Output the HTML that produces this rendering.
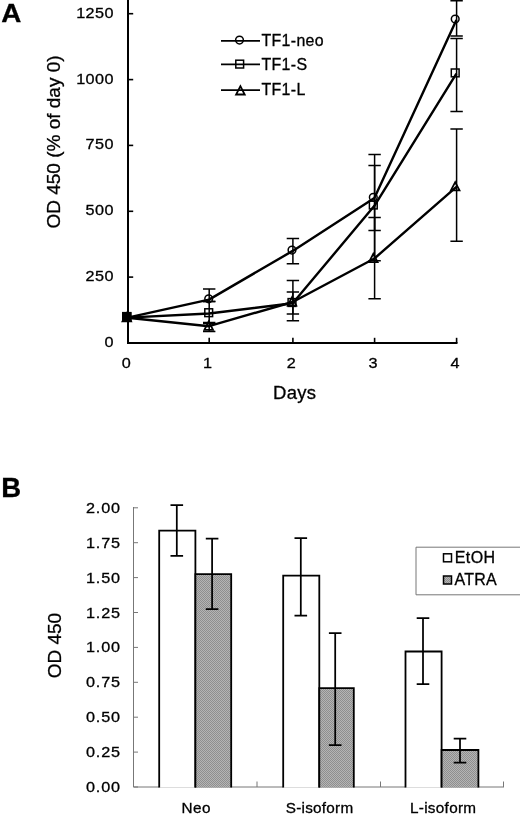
<!DOCTYPE html>
<html><head><meta charset="utf-8"><title>Figure</title>
<style>html,body{margin:0;padding:0;background:#fff;}body{width:520px;height:815px;overflow:hidden;position:relative;font-family:"Liberation Sans",sans-serif;}</style></head>
<body>
<svg width="520" height="815" viewBox="0 0 520 815" style="position:absolute;left:0;top:0;will-change:transform;font-family:'Liberation Sans',sans-serif;">
<rect width="520" height="815" fill="#fff"/>
<g id="pA" fill="none" stroke="#000" stroke-linecap="butt">
<path d="M128 0V343.0H457.5" stroke-width="2"/>
<path d="M128 277.1h5.2" stroke-width="1.6"/>
<path d="M128 211.3h5.2" stroke-width="1.6"/>
<path d="M128 145.4h5.2" stroke-width="1.6"/>
<path d="M128 79.6h5.2" stroke-width="1.6"/>
<path d="M128 13.7h5.2" stroke-width="1.6"/>
<path d="M209.2 343.0v-5.2" stroke-width="1.6"/>
<path d="M292.9 343.0v-5.2" stroke-width="1.6"/>
<path d="M374.6 343.0v-5.2" stroke-width="1.6"/>
<path d="M456.6 343.0v-5.2" stroke-width="1.6"/>
<path d="M209.2 289.0V301.4M203.0 289.0h12.4M203.0 301.4h12.4" stroke-width="1.5"/>
<path d="M209.2 301.4V323.6M203.0 301.4h12.4M203.0 323.6h12.4" stroke-width="1.5"/>
<path d="M209.2 322.6V331.4M203.0 322.6h12.4M203.0 331.4h12.4" stroke-width="1.5"/>
<path d="M292.9 238.4V263.7M286.7 238.4h12.4M286.7 263.7h12.4" stroke-width="1.5"/>
<path d="M292.9 280.6V320.7M286.7 280.6h12.4M286.7 320.7h12.4" stroke-width="1.5"/>
<path d="M292.9 292.0V314.1M286.7 292.0h12.4M286.7 314.1h12.4" stroke-width="1.5"/>
<path d="M374.6 165.4V230.6M368.4 165.4h12.4M368.4 230.6h12.4" stroke-width="1.5"/>
<path d="M374.6 154.6V260.8M368.4 154.6h12.4M368.4 260.8h12.4" stroke-width="1.5"/>
<path d="M374.6 217.5V298.8M368.4 217.5h12.4M368.4 298.8h12.4" stroke-width="1.5"/>
<path d="M456.6 0.8V36.0M450.4 0.8h12.4M450.4 36.0h12.4" stroke-width="1.5"/>
<path d="M456.6 38.6V111.6M450.4 38.6h12.4M450.4 111.6h12.4" stroke-width="1.5"/>
<path d="M456.6 129.0V241.3M450.4 129.0h12.4M450.4 241.3h12.4" stroke-width="1.5"/>
<polyline points="127.6,317.6 209.0,299.6 292.7,250.9 374.4,198.1 456.4,19.9" stroke-width="2.4" stroke-linejoin="round"/>
<polyline points="127.6,317.6 209.0,313.5 292.7,303.3 374.4,205.8 456.4,73.7" stroke-width="2.4" stroke-linejoin="round"/>
<polyline points="127.6,317.8 209.0,326.2 292.7,302.0 374.4,258.5 456.4,186.8" stroke-width="2.4" stroke-linejoin="round"/>
<rect x="122.6" y="312.4" width="8.4" height="8.6" fill="#000" stroke-width="1"/>
<circle cx="126.8" cy="316.8" r="3.85" stroke-width="1.5"/>
<rect x="122.9" y="312.9" width="7.8" height="7.8" stroke-width="1.5"/>
<path d="M126.8 313.1L131.1 321.4H122.5Z" stroke-width="1.8" stroke-linejoin="miter"/>
<circle cx="208.7" cy="298.8" r="3.85" stroke-width="1.5"/>
<rect x="204.8" y="308.8" width="7.8" height="7.8" stroke-width="1.5"/>
<path d="M208.7 321.5L213.0 329.8H204.4Z" stroke-width="1.8" stroke-linejoin="miter"/>
<circle cx="292.0" cy="250.1" r="3.85" stroke-width="1.5"/>
<rect x="288.1" y="298.6" width="7.8" height="7.8" stroke-width="1.5"/>
<path d="M292.0 297.3L296.3 305.6H287.7Z" stroke-width="1.8" stroke-linejoin="miter"/>
<circle cx="373.3" cy="197.3" r="3.85" stroke-width="1.5"/>
<rect x="369.4" y="201.1" width="7.8" height="7.8" stroke-width="1.5"/>
<path d="M373.3 253.8L377.6 262.1H369.0Z" stroke-width="1.8" stroke-linejoin="miter"/>
<circle cx="455.2" cy="19.1" r="3.85" stroke-width="1.5"/>
<rect x="451.3" y="69.0" width="7.8" height="7.8" stroke-width="1.5"/>
<path d="M455.2 182.1L459.5 190.4H450.9Z" stroke-width="1.8" stroke-linejoin="miter"/>
<path d="M221 40.9H260" stroke-width="1.8"/>
<circle cx="239.5" cy="40.1" r="3.85" stroke-width="1.5"/>
<path d="M221 64.4H260" stroke-width="1.8"/>
<rect x="235.8" y="60.2" width="7.8" height="7.8" stroke-width="1.5"/>
<path d="M221 90.1H260" stroke-width="1.8"/>
<path d="M240.4 86.2L244.7 94.5H236.1Z" stroke-width="1.8" stroke-linejoin="miter"/>
</g>
<g fill="#000">
<text transform="translate(261.40 46.20) scale(1.02 1)" x="0.00" y="0" font-size="15.6px" letter-spacing="0.35px" text-anchor="start" stroke="#000" stroke-width="0.3">TF1-neo</text>
<text transform="translate(261.40 69.80) scale(1.02 1)" x="0.00" y="0" font-size="15.6px" letter-spacing="0.35px" text-anchor="start" stroke="#000" stroke-width="0.3">TF1-S</text>
<text transform="translate(261.40 94.90) scale(1.02 1)" x="0.00" y="0" font-size="15.6px" letter-spacing="0.35px" text-anchor="start" stroke="#000" stroke-width="0.3">TF1-L</text>
<text transform="translate(113.50 347.00) scale(1.08 1)" x="0.40" y="0" font-size="15px" letter-spacing="0.4px" text-anchor="end" stroke="#000" stroke-width="0.3">0</text>
<text transform="translate(113.50 281.14) scale(1.08 1)" x="0.40" y="0" font-size="15px" letter-spacing="0.4px" text-anchor="end" stroke="#000" stroke-width="0.3">250</text>
<text transform="translate(113.50 215.28) scale(1.08 1)" x="0.40" y="0" font-size="15px" letter-spacing="0.4px" text-anchor="end" stroke="#000" stroke-width="0.3">500</text>
<text transform="translate(113.50 149.42) scale(1.08 1)" x="0.40" y="0" font-size="15px" letter-spacing="0.4px" text-anchor="end" stroke="#000" stroke-width="0.3">750</text>
<text transform="translate(113.50 83.56) scale(1.08 1)" x="0.40" y="0" font-size="15px" letter-spacing="0.4px" text-anchor="end" stroke="#000" stroke-width="0.3">1000</text>
<text transform="translate(113.50 17.70) scale(1.08 1)" x="0.40" y="0" font-size="15px" letter-spacing="0.4px" text-anchor="end" stroke="#000" stroke-width="0.3">1250</text>
<text transform="translate(126.20 368.40) scale(1.08 1)" x="0.00" y="0" font-size="15px" letter-spacing="0px" text-anchor="middle" stroke="#000" stroke-width="0.3">0</text>
<text transform="translate(207.60 368.40) scale(1.08 1)" x="0.00" y="0" font-size="15px" letter-spacing="0px" text-anchor="middle" stroke="#000" stroke-width="0.3">1</text>
<text transform="translate(291.30 368.40) scale(1.08 1)" x="0.00" y="0" font-size="15px" letter-spacing="0px" text-anchor="middle" stroke="#000" stroke-width="0.3">2</text>
<text transform="translate(373.00 368.40) scale(1.08 1)" x="0.00" y="0" font-size="15px" letter-spacing="0px" text-anchor="middle" stroke="#000" stroke-width="0.3">3</text>
<text transform="translate(455.00 368.40) scale(1.08 1)" x="0.00" y="0" font-size="15px" letter-spacing="0px" text-anchor="middle" stroke="#000" stroke-width="0.3">4</text>
<text transform="translate(294.50 399.10) scale(1.0 1)" x="0.15" y="0" font-size="18.5px" letter-spacing="0.3px" text-anchor="middle" stroke="#000" stroke-width="0.3">Days</text>
<text transform="translate(60.0 142.0) rotate(-90)" text-anchor="middle" font-size="19px" stroke="#000" stroke-width="0.3">OD 450 (% of day 0)</text>
<text transform="translate(1.3 22.4) scale(1.05 1)" font-size="26.5px" font-weight="bold" stroke="#000" stroke-width="0.3">A</text>
<text transform="translate(1.3 497.4) scale(1.02 1)" font-size="27px" font-weight="bold" stroke="#000" stroke-width="0.3">B</text>
</g>
<g id="pB" fill="none" stroke="#777" stroke-width="1">
<path d="M133.5 507V787.0H504"/>
<path d="M133.5 787.0h4.5"/>
<path d="M133.5 752.1h4.5"/>
<path d="M133.5 717.2h4.5"/>
<path d="M133.5 682.3h4.5"/>
<path d="M133.5 647.4h4.5"/>
<path d="M133.5 612.5h4.5"/>
<path d="M133.5 577.6h4.5"/>
<path d="M133.5 542.7h4.5"/>
<path d="M133.5 507.8h4.5"/>
<path d="M257.0 787.0v-5.5"/>
<path d="M380.5 787.0v-5.5"/>
<path d="M503.5 787.0v-5.5"/>
<path d="M530 547.2H416V594.8H530"/>
</g>
<defs><pattern id="ht" width="2" height="2" patternUnits="userSpaceOnUse"><rect width="2" height="2" fill="#b4b4b4"/><rect width="1" height="1" fill="#8e8e8e"/><rect x="1" y="1" width="1" height="1" fill="#8e8e8e"/></pattern></defs>
<g stroke="#000" stroke-width="1.8">
<path d="M159.2 787.5V530.6H195.4V787.5" fill="#fff"/>
<path d="M195.4 787.5V574.2H231.2V787.5" fill="url(#ht)"/>
<path d="M283.2 787.5V575.7H319.3V787.5" fill="#fff"/>
<path d="M319.3 787.5V688.2H353.8V787.5" fill="url(#ht)"/>
<path d="M405.5 787.5V651.5H441.6V787.5" fill="#fff"/>
<path d="M441.6 787.5V750H478.4V787.5" fill="url(#ht)"/>
<path d="M176.8 505V555.8M170.5 505h12.6M170.5 555.8h12.6" fill="none" stroke-width="1.75"/>
<path d="M212.1 538.5V609M205.8 538.5h12.6M205.8 609h12.6" fill="none" stroke-width="1.75"/>
<path d="M300.8 538V615.5M294.5 538h12.6M294.5 615.5h12.6" fill="none" stroke-width="1.75"/>
<path d="M335.2 633V745M328.9 633h12.6M328.9 745h12.6" fill="none" stroke-width="1.75"/>
<path d="M423 618V684M416.7 618h12.6M416.7 684h12.6" fill="none" stroke-width="1.75"/>
<path d="M460 738.5V762.5M453.7 738.5h12.6M453.7 762.5h12.6" fill="none" stroke-width="1.75"/>
<rect x="443.5" y="553.8" width="8" height="8" fill="#fff" stroke-width="1.5"/>
<rect x="443.5" y="576" width="8" height="8" fill="url(#ht)" stroke-width="1.5"/>
</g>
<g fill="#000">
<text transform="translate(120.00 792.00) scale(1.08 1)" x="0.75" y="0" font-size="15px" letter-spacing="0.75px" text-anchor="end" stroke="#000" stroke-width="0.3">0.00</text>
<text transform="translate(120.00 757.10) scale(1.08 1)" x="0.75" y="0" font-size="15px" letter-spacing="0.75px" text-anchor="end" stroke="#000" stroke-width="0.3">0.25</text>
<text transform="translate(120.00 722.20) scale(1.08 1)" x="0.75" y="0" font-size="15px" letter-spacing="0.75px" text-anchor="end" stroke="#000" stroke-width="0.3">0.50</text>
<text transform="translate(120.00 687.30) scale(1.08 1)" x="0.75" y="0" font-size="15px" letter-spacing="0.75px" text-anchor="end" stroke="#000" stroke-width="0.3">0.75</text>
<text transform="translate(120.00 652.40) scale(1.08 1)" x="0.75" y="0" font-size="15px" letter-spacing="0.75px" text-anchor="end" stroke="#000" stroke-width="0.3">1.00</text>
<text transform="translate(120.00 617.50) scale(1.08 1)" x="0.75" y="0" font-size="15px" letter-spacing="0.75px" text-anchor="end" stroke="#000" stroke-width="0.3">1.25</text>
<text transform="translate(120.00 582.60) scale(1.08 1)" x="0.75" y="0" font-size="15px" letter-spacing="0.75px" text-anchor="end" stroke="#000" stroke-width="0.3">1.50</text>
<text transform="translate(120.00 547.70) scale(1.08 1)" x="0.75" y="0" font-size="15px" letter-spacing="0.75px" text-anchor="end" stroke="#000" stroke-width="0.3">1.75</text>
<text transform="translate(120.00 512.80) scale(1.08 1)" x="0.75" y="0" font-size="15px" letter-spacing="0.75px" text-anchor="end" stroke="#000" stroke-width="0.3">2.00</text>
<text transform="translate(196.00 813.20) scale(1.0 1)" x="0.25" y="0" font-size="15.3px" letter-spacing="0.5px" text-anchor="middle" stroke="#000" stroke-width="0.3">Neo</text>
<text transform="translate(319.40 813.10) scale(1.0 1)" x="0.12" y="0" font-size="15.3px" letter-spacing="0.25px" text-anchor="middle" stroke="#000" stroke-width="0.3">S-isoform</text>
<text transform="translate(443.00 813.10) scale(1.0 1)" x="0.15" y="0" font-size="15.3px" letter-spacing="0.3px" text-anchor="middle" stroke="#000" stroke-width="0.3">L-isoform</text>
<text transform="translate(454.80 563.40) scale(1.0 1)" x="0.00" y="0" font-size="16px" letter-spacing="0.4px" text-anchor="start" stroke="#000" stroke-width="0.3">EtOH</text>
<text transform="translate(454.40 585.30) scale(1.0 1)" x="0.00" y="0" font-size="16px" letter-spacing="0.3px" text-anchor="start" stroke="#000" stroke-width="0.3">ATRA</text>
<text transform="translate(60.9 645.6) rotate(-90)" text-anchor="middle" font-size="19px" stroke="#000" stroke-width="0.3">OD 450</text>
</g>
</svg>
</body></html>
